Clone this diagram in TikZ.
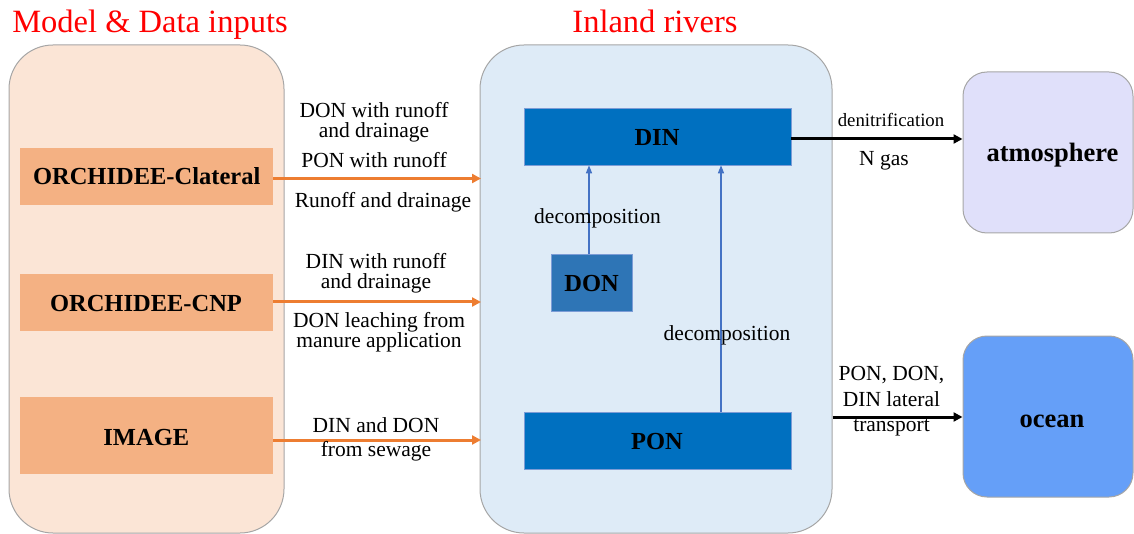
\documentclass[tikz,border=0pt]{standalone}
\usepackage{fontspec}
\setmainfont{Liberation Serif}
\usetikzlibrary{arrows.meta}
\definecolor{leftbg}{HTML}{FBE5D6}
\definecolor{midbg}{HTML}{DEEBF7}
\definecolor{orbox}{HTML}{F4B183}
\definecolor{orline}{HTML}{ED7D31}
\definecolor{dinbox}{HTML}{0070C0}
\definecolor{donbox}{HTML}{2E75B6}
\definecolor{blline}{HTML}{4472C4}
\definecolor{atmbg}{HTML}{E0E0FA}
\definecolor{oceanbg}{HTML}{659FF8}
\definecolor{titlered}{HTML}{FF0000}
\definecolor{edgegray}{HTML}{A6A6A6}
\tikzset{
  panel/.style={draw=edgegray, line width=1pt, rounded corners=44pt, inner sep=0pt},
  modelbox/.style={fill=orbox, inner sep=0pt},
  poolbox/.style={draw=blline!70, line width=0.6pt, inner sep=0pt},
  sinkbox/.style={draw=edgegray, line width=1pt, rounded corners=24pt, inner sep=0pt},
  boxtext/.style={inner sep=0pt, anchor=base, font=\fontsize{24.5}{26}\selectfont\bfseries},
  sinktext/.style={inner sep=0pt, anchor=base, font=\fontsize{26.5}{28}\selectfont\bfseries},
  inflow/.style={draw=orline, line width=3pt, -{Triangle[length=9pt,width=9pt]}},
  decomp/.style={draw=blline, line width=1.4pt, -{Triangle[length=8pt,width=6pt]}},
  outflow/.style={draw=black, line width=3pt, -{Triangle[length=9pt,width=9pt]}},
  lbl/.style={inner sep=0pt, anchor=base, align=center, font=\fontsize{21.5}{20}\selectfont},
  smalllbl/.style={inner sep=0pt, anchor=base, align=center, font=\fontsize{18.8}{19}\selectfont},
  titletext/.style={inner sep=0pt, anchor=base, text=titlered, font=\fontsize{32.5}{34}\selectfont}
}
\begin{document}
\begin{tikzpicture}[x=1pt,y=-1pt]
\useasboundingbox (0,0) rectangle (1134,534);
% panels
\node[panel, fill=leftbg, minimum width=275pt, minimum height=488pt] (left) at (146.5,289) {};
\node[panel, fill=midbg, minimum width=352pt, minimum height=488pt] (mid) at (656,289) {};
\node[sinkbox, fill=atmbg, minimum width=170pt, minimum height=161pt] (atm) at (1048,152.5) {};
\node[sinkbox, fill=oceanbg, minimum width=170pt, minimum height=161pt] (ocean) at (1048,416.5) {};
\node[sinktext] (atmt) at (1052.5,162) {atmosphere};
\node[sinktext] (oceant) at (1052,427) {ocean};
% titles
\node[titletext] (t1) at (150,33) {Model \& Data inputs};
\node[titletext] (t2) at (655,33) {Inland rivers};
% model boxes
\node[modelbox, minimum width=253pt, minimum height=57pt] (clat) at (146.5,176.5) {};
\node[modelbox, minimum width=253pt, minimum height=57pt] (cnp) at (146.5,302.5) {};
\node[modelbox, minimum width=253pt, minimum height=77pt] (img) at (146.5,435.5) {};
\node[boxtext] (clatt) at (146.7,185) {ORCHIDEE-Clateral};
\node[boxtext] (cnpt) at (146,312) {ORCHIDEE-CNP};
\node[boxtext] (imgt) at (146.3,445) {IMAGE};
% pools
\node[poolbox, fill=dinbox, minimum width=267pt, minimum height=57pt] (din) at (657.5,136.5) {};
\node[poolbox, fill=dinbox, minimum width=267pt, minimum height=57pt] (pon) at (657.5,440.5) {};
\node[poolbox, fill=donbox, minimum width=81pt, minimum height=57pt] (don) at (591.5,282.5) {};
\node[boxtext] (dint) at (657,146) {DIN};
\node[boxtext] (pont) at (657,449) {PON};
\node[boxtext] (dont) at (591.7,292) {DON};
% inflow arrows
\coordinate (e1) at (481,178.5);
\coordinate (e2) at (481,302);
\coordinate (e3) at (481,440);
\draw[inflow] (clat.east |- e1) -- (e1);
\draw[inflow] (cnp.east |- e2) -- (e2);
\draw[inflow] (img.east |- e3) -- (e3);
\node[lbl] (l1) at (374,138) {DON with runoff\\and drainage};
\node[lbl] (l2) at (374,168) {PON with runoff};
\node[lbl] (l3) at (383,208) {Runoff and drainage};
\node[lbl] (l4) at (376,289) {DIN with runoff\\and drainage};
\node[lbl] (l5) at (379,347) {DON leaching from\\manure application};
\node[lbl] (l6) at (376,456) {DIN and DON\\[4pt]from sewage};
% decomposition arrows
\draw[decomp] (don.north -| 589,0) -- (din.south -| 589,0);
\draw[decomp] (pon.north -| 721,0) -- (din.south -| 721,0);
\node[lbl] (d1) at (597.5,224) {decomposition};
\node[lbl] (d2) at (727,341) {decomposition};
% outflows
\coordinate (a1) at (0,139);
\coordinate (a2) at (0,417);
\draw[outflow] (din.east |- a1) -- (atm.west |- a1);
\draw[outflow] (mid.east |- a2) -- (ocean.west |- a2);
\node[smalllbl] (o1) at (891,127) {denitrification};
\node[lbl] (o2) at (884,166) {N gas};
\node[lbl] (o3) at (891.5,431) {PON, DON,\\[6pt]DIN lateral\\[5pt]transport};
\end{tikzpicture}
\end{document}
